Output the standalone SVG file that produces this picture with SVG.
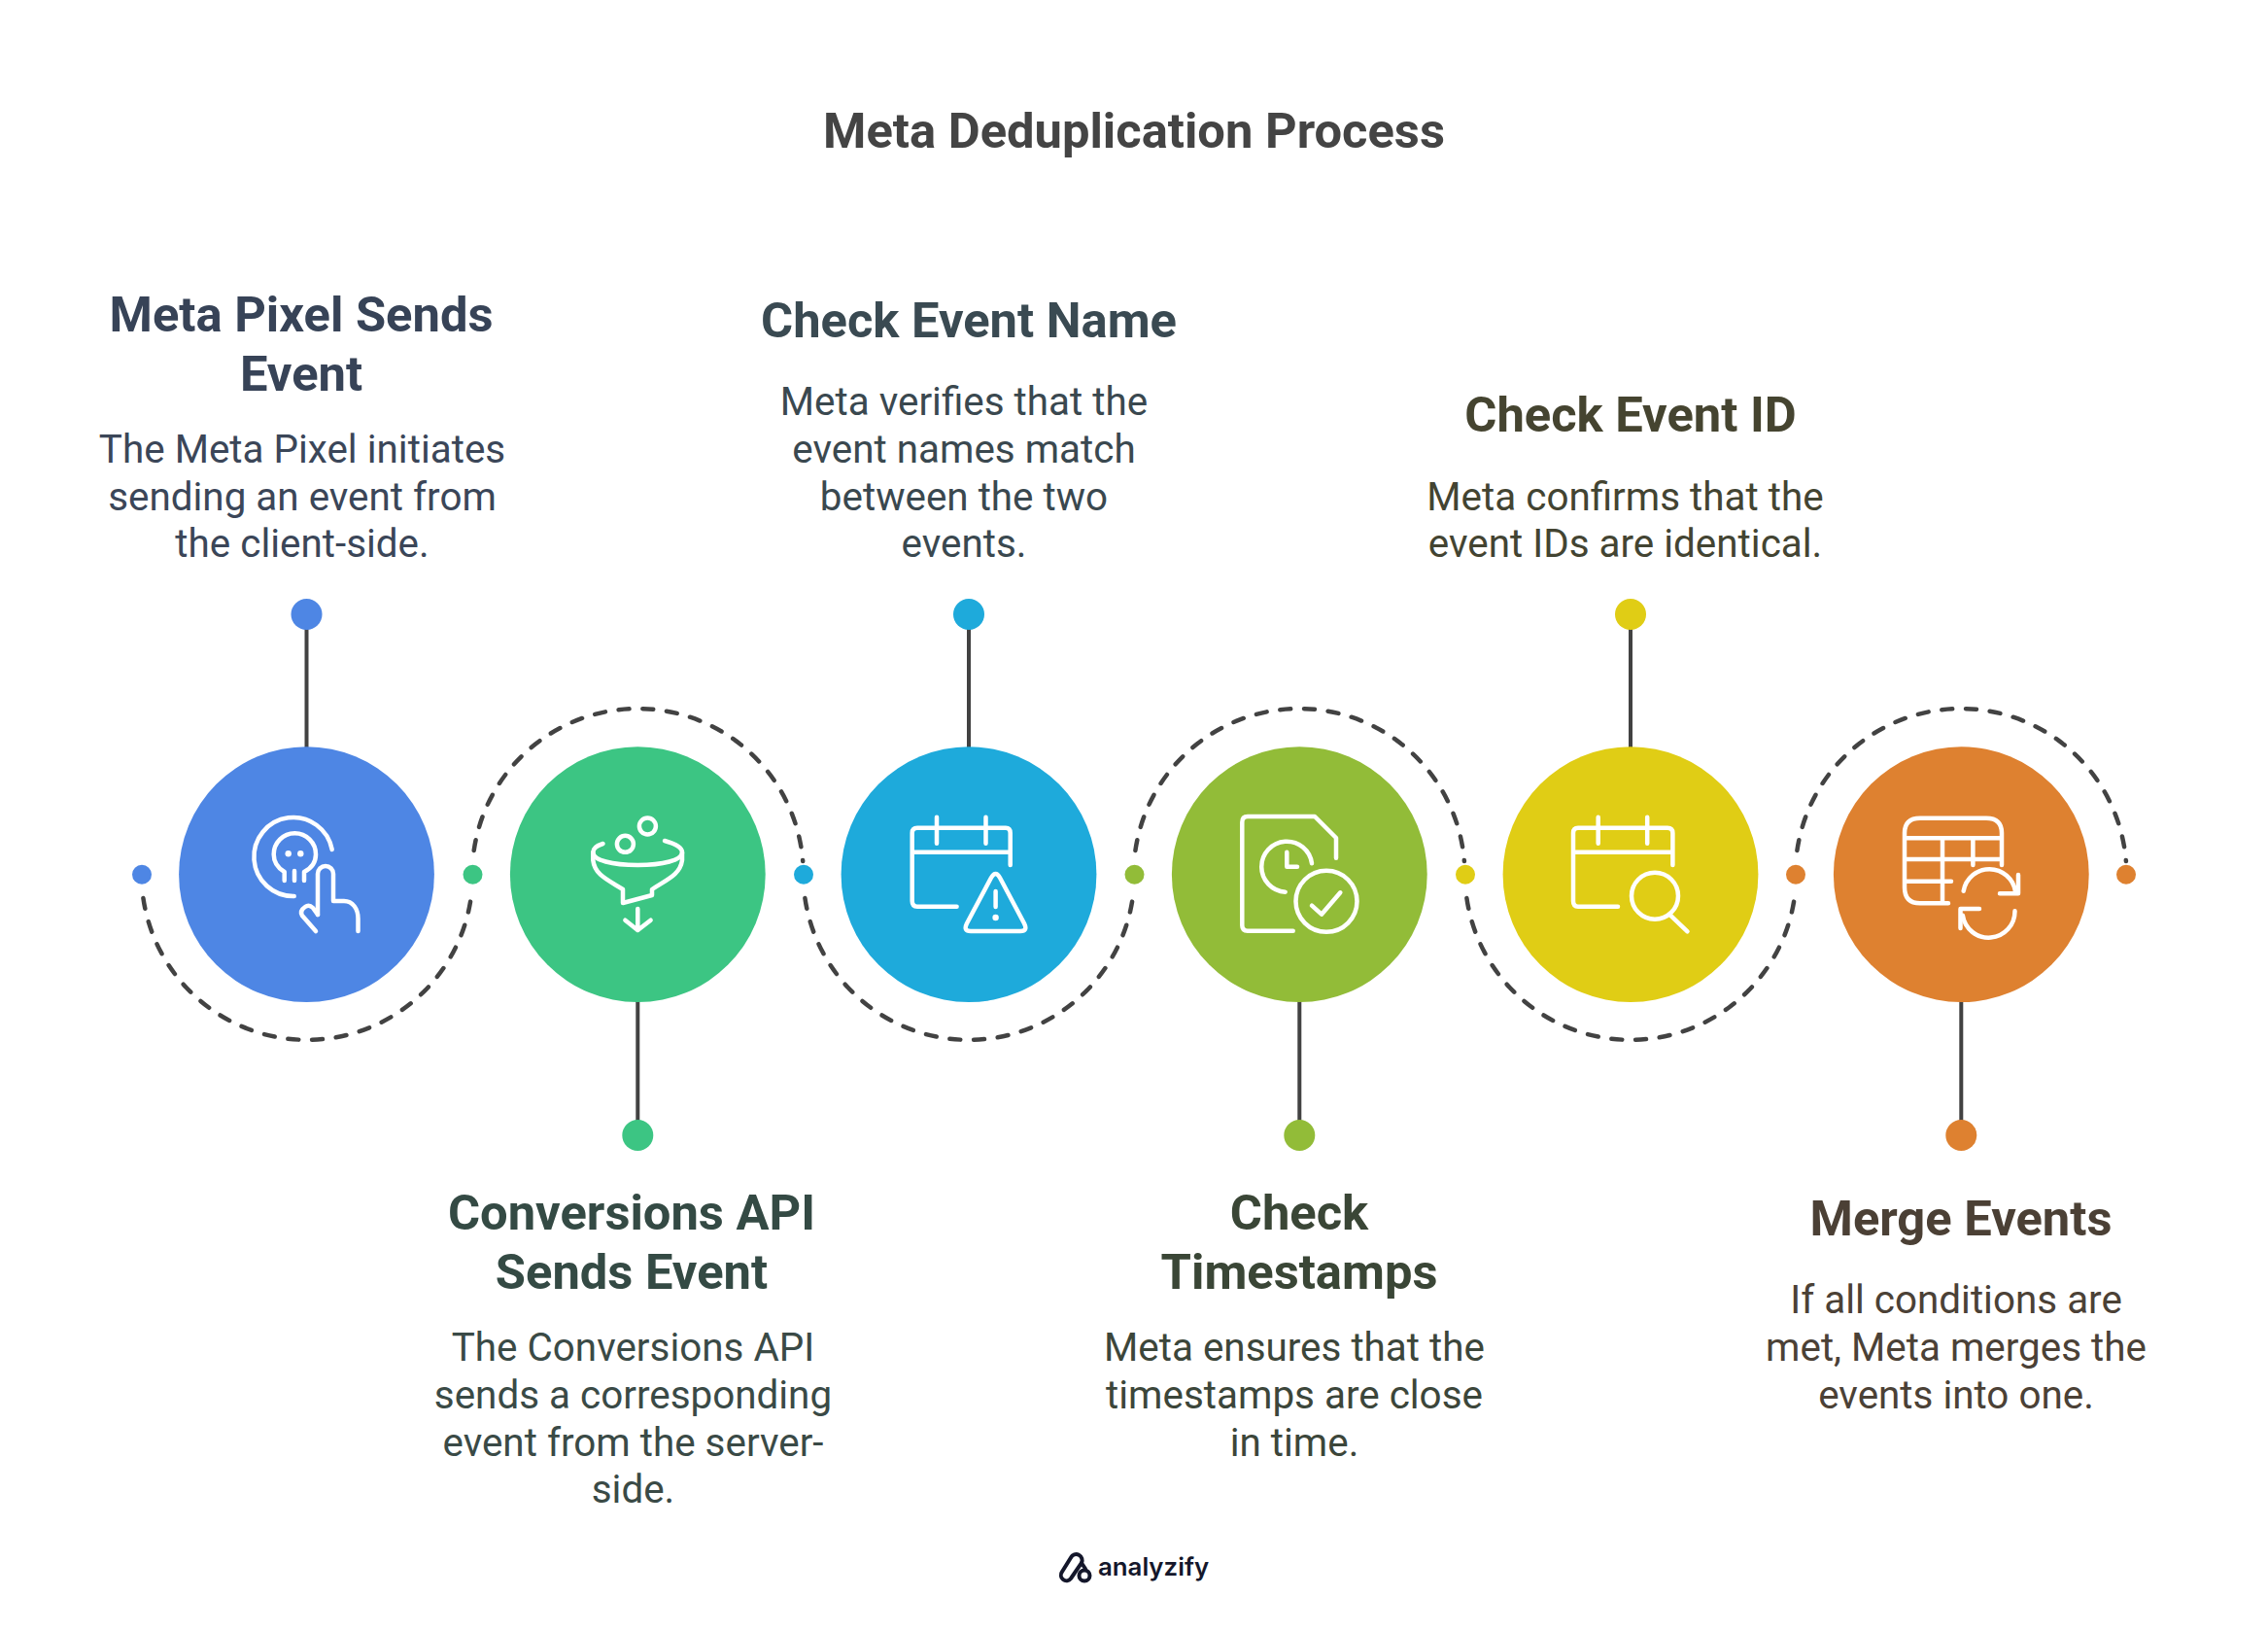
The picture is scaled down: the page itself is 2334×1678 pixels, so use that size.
<svg xmlns="http://www.w3.org/2000/svg" width="2334" height="1678" viewBox="0 0 2334 1678">
<style>
.h{font-family:Roboto,"Liberation Sans",sans-serif;font-weight:700;font-size:50.700px;text-anchor:middle}
.b{font-family:Roboto,"Liberation Sans",sans-serif;font-weight:400;font-size:40.400px;text-anchor:middle}
.ic{fill:none;stroke:#fff;stroke-width:4.500;stroke-linecap:round;stroke-linejoin:round}
.con{fill:none;stroke:#424242;stroke-width:4}
.dash{stroke-dasharray:11 13.800;stroke-linecap:round;stroke-width:4.500}
</style>
<rect width="2334" height="1678" fill="#fff"/>
<text id="title" x="1167" y="152" font-family="Roboto,'Liberation Sans',sans-serif" font-weight="700" font-size="50.700" text-anchor="middle" fill="#444444">Meta Deduplication Process</text>
<g id="connectors" class="con">
<path class="dash" d="M147.400 924A170.400 170.400 0 0 0 485.800 914"/>
<path class="dash" d="M487.700 875A170.400 170.400 0 0 1 826.200 886"/>
<path class="dash" d="M828.400 924A170.400 170.400 0 0 0 1166.800 914"/>
<path class="dash" d="M1168.400 875A170.400 170.400 0 0 1 1506.900 886"/>
<path class="dash" d="M1509.400 924A170.400 170.400 0 0 0 1847.800 914"/>
<path class="dash" d="M1849.400 875A170.400 170.400 0 0 1 2187.900 886"/>
<path d="M315.500 632V770M656.300 1030V1168M997 632V770M1337.300 1030V1168M1678 632V770M2018.300 1030V1168"/>
</g>
<g id="node1">
<circle cx="146" cy="899.700" r="10" fill="#4e86e4"/><circle cx="315.500" cy="632" r="16" fill="#4e86e4"/><circle cx="315.500" cy="899.700" r="131.400" fill="#4e86e4"/>
<g class="ic"><path d="M341.700 874A40.500 40.500 0 1 0 302.700 922"/><path d="M292.700 906V897C286 893 281.700 887 281.700 879A21.600 21.600 0 0 1 325 879C325 887 321 893 313 897V906M303 896V906"/><path d="M327 941V899A8 8 0 0 1 343 899V927H354C363 927 368.500 935 368.500 945V958"/><path d="M327 941L322 934Q318 930 314 933Q308 937 311 942L325 958"/></g>
<g fill="#fff"><circle cx="296.700" cy="878.300" r="3.200"/><circle cx="309.300" cy="878.300" r="3.200"/></g>
<text class="h" fill="#374357"><tspan x="310" y="341">Meta Pixel Sends</tspan><tspan x="310" y="402">Event</tspan></text>
<text class="b" fill="#3b4658"><tspan x="311" y="476">The Meta Pixel initiates</tspan><tspan x="311" y="525">sending an event from</tspan><tspan x="311" y="573">the client-side.</tspan></text>
</g>
<g id="node2">
<circle cx="486.500" cy="899.700" r="10" fill="#3cc583"/><circle cx="656.300" cy="1168" r="16" fill="#3cc583"/><circle cx="656.300" cy="899.700" r="131.400" fill="#3cc583"/>
<g class="ic"><circle cx="643.400" cy="868.300" r="8.500"/><circle cx="666.400" cy="850" r="8.500"/><path d="M620.500 868C614 870 610.300 873 610.300 877C610.300 885 630 890 656.300 890C682 890 702 885 702 877C702 872 695 868 684 865"/><path d="M610.300 877V885C612 900 625 905 641 915V929L671 921V915C686 905 700 900 702 885V877"/><path d="M656.300 935V957M643.400 946.700L656.300 957L669.600 946.700"/></g>
<text class="h" fill="#344a44"><tspan x="650" y="1265">Conversions API</tspan><tspan x="650" y="1326">Sends Event</tspan></text>
<text class="b" fill="#3a4a46"><tspan x="651.500" y="1400">The Conversions API</tspan><tspan x="651.500" y="1449">sends a corresponding</tspan><tspan x="651.500" y="1498">event from the server-</tspan><tspan x="651.500" y="1546">side.</tspan></text>
</g>
<g id="node3">
<circle cx="827" cy="899.700" r="10" fill="#1eaadb"/><circle cx="997" cy="632" r="16" fill="#1eaadb"/><circle cx="997" cy="899.700" r="131.400" fill="#1eaadb"/>
<g class="ic"><path d="M984.600 932.700H944Q938.700 932.700 938.700 927V857Q938.700 851.700 944 851.700H1035Q1039.700 851.700 1039.700 857V890M938.700 876.700H1039.700M964 840.700V867.700M1014.500 840.700V867.700"/><path d="M1020 903Q1024.600 895 1029 903L1054 950Q1058 958 1050 958H999Q991 958 995 950Z"/><path d="M1024.600 917V933"/></g>
<circle cx="1024.600" cy="944" r="3.200" fill="#fff"/>
<text class="h" fill="#3a4a52"><tspan x="997" y="347">Check Event Name</tspan></text>
<text class="b" fill="#3a484f"><tspan x="992" y="427">Meta verifies that the</tspan><tspan x="992" y="476">event names match</tspan><tspan x="992" y="525">between the two</tspan><tspan x="992" y="573">events.</tspan></text>
</g>
<g id="node4">
<circle cx="1167.500" cy="899.700" r="10" fill="#92bc38"/><circle cx="1337.300" cy="1168" r="16" fill="#92bc38"/><circle cx="1337.300" cy="899.700" r="131.400" fill="#92bc38"/>
<g class="ic"><path d="M1330.700 957.700H1284Q1278.300 957.700 1278.300 952V846Q1278.300 840 1284 840H1353L1375 862V882.700"/><path d="M1350 888.300A26 26 0 1 0 1322.700 917.700"/><path d="M1324.300 876.700V891.700H1335"/><circle cx="1365" cy="927.300" r="31.500"/><path d="M1350 931.700L1360 940.700L1379.300 918.300"/></g>
<text class="h" fill="#3a4636"><tspan x="1337" y="1265">Check</tspan><tspan x="1337" y="1326">Timestamps</tspan></text>
<text class="b" fill="#3c463a"><tspan x="1332" y="1400">Meta ensures that the</tspan><tspan x="1332" y="1449">timestamps are close</tspan><tspan x="1332" y="1498">in time.</tspan></text>
</g>
<g id="node5">
<circle cx="1508" cy="899.700" r="10" fill="#e0cd15"/><circle cx="1678" cy="632" r="16" fill="#e0cd15"/><circle cx="1678" cy="899.700" r="131.400" fill="#e0cd15"/>
<g class="ic"><path d="M1665 932.700H1624Q1619 932.700 1619 927V857Q1619 851.700 1624 851.700H1716Q1721.400 851.700 1721.400 857V890M1619 876.700H1721.400M1644.700 840.700V867.700M1695.200 840.700V867.700"/><circle cx="1703" cy="921.700" r="24"/><path d="M1719 941.700L1736.500 958.300"/></g>
<text class="h" fill="#454430"><tspan x="1678" y="444">Check Event ID</tspan></text>
<text class="b" fill="#434432"><tspan x="1672.500" y="525">Meta confirms that the</tspan><tspan x="1672.500" y="573">event IDs are identical.</tspan></text>
</g>
<g id="node6">
<circle cx="1848" cy="899.700" r="10" fill="#de8130"/><circle cx="2188" cy="899.700" r="10" fill="#de8130"/><circle cx="2018.300" cy="1168" r="16" fill="#de8130"/><circle cx="2018.300" cy="899.700" r="131.400" fill="#de8130"/>
<g class="ic"><path d="M2005 929.300H1976Q1960 929.300 1960 913V857Q1960 841.700 1976 841.700H2044Q2060 841.700 2060 857V890M1960 862.300H2060M1960 884H2060M1960 906.700H2008M1999 862.300V929.300M2030.400 862.300V890"/><path d="M2020.700 916.700A27 27 0 0 1 2074 917"/><path d="M2058 919.300H2077V900"/><path d="M2073.500 937.300A27 27 0 0 1 2019.800 941.700"/><path d="M2037 935H2017.500V955"/></g>
<text class="h" fill="#4b4035"><tspan x="2018" y="1271">Merge Events</tspan></text>
<text class="b" fill="#4b4136"><tspan x="2013" y="1351">If all conditions are</tspan><tspan x="2013" y="1400">met, Meta merges the</tspan><tspan x="2013" y="1449">events into one.</tspan></text>
</g>
<g id="brand">
<g fill="none" stroke="#14172b" stroke-width="4" stroke-linecap="round" transform="translate(2 0)"><path d="M1091 1617L1100 1602.500A6 6 0 0 1 1111 1608L1100 1624A5 5 0 0 1 1091 1617"/><path d="M1111 1608L1115 1614"/><circle cx="1114" cy="1621" r="5.500"/></g>
<text x="1130" y="1621" font-family="Inter,Roboto,sans-serif" font-weight="600" font-size="25.800" fill="#14172b">analyzify</text>
</g>
</svg>
